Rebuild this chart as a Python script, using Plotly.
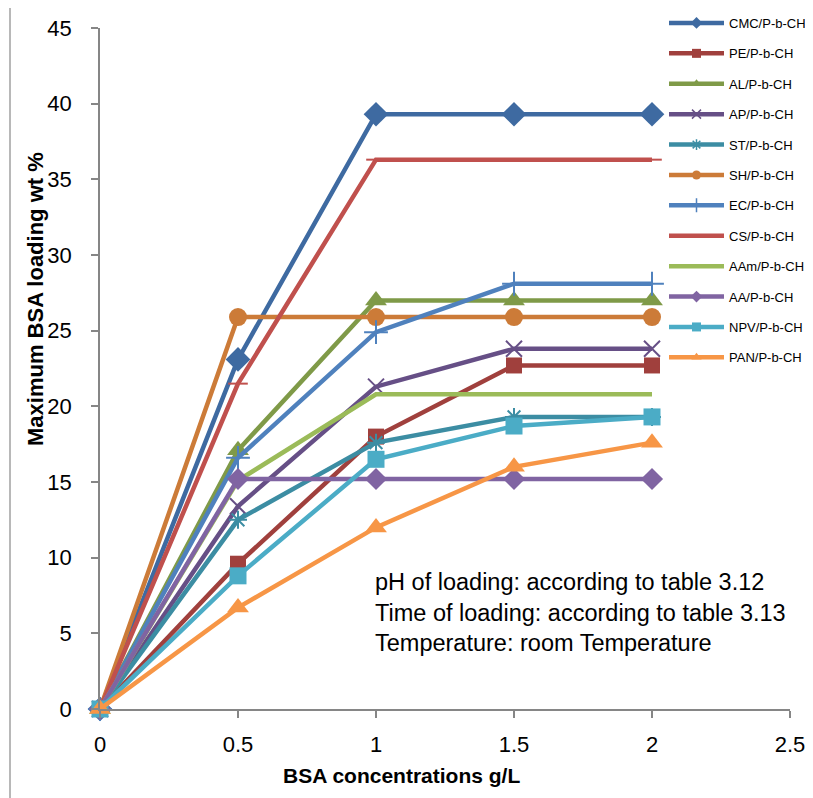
import plotly.graph_objects as go

x_conc = [0, 0.5, 1, 1.5, 2]

names = ["CMC/P-b-CH", "PE/P-b-CH", "AL/P-b-CH", "AP/P-b-CH", "ST/P-b-CH", "SH/P-b-CH",
         "EC/P-b-CH", "CS/P-b-CH", "AAm/P-b-CH", "AA/P-b-CH", "NPV/P-b-CH", "PAN/P-b-CH"]

cmc = [0, 23.1, 39.3, 39.3, 39.3]
pe = [0, 9.6, 18.0, 22.7, 22.7]
al = [0, 17.1, 27.0, 27.0, 27.0]
ap = [0, 13.4, 21.3, 23.8, 23.8]
st = [0, 12.5, 17.6, 19.3, 19.3]
sh = [0, 25.9, 25.9, 25.9, 25.9]
ec = [0, 16.6, 24.9, 28.1, 28.1]
cs = [0, 21.5, 36.3, 36.3, 36.3]
aam = [0, 15.1, 20.8, 20.8, 20.8]
aa = [0, 15.2, 15.2, 15.2, 15.2]
npv = [0, 8.8, 16.5, 18.7, 19.3]
pan = [0, 6.7, 12.0, 16.0, 17.6]

series = [cmc, pe, al, ap, st, sh, ec, cs, aam, aa, npv, pan]

x_ticks = [0, 0.5, 1, 1.5, 2, 2.5]
x_tick_labels = ["0", "0.5", "1", "1.5", "2", "2.5"]
y_ticks = [0, 5, 10, 15, 20, 25, 30, 35, 40, 45]

colors = ["#3E6AA1", "#A0403D", "#7F9A48", "#664F86", "#3C8DA3", "#CC7B38",
          "#4F81BD", "#C0504D", "#9BBB59", "#8064A2", "#4BACC6", "#F79646"]
symbols = ["diamond", "square", "triangle-up", "x-thin", "asterisk", "circle",
           "cross-thin", "line-ew", None, "diamond", "square", "triangle-up"]
sizes = [19, 16, 19, 16, 15, 18, 17, 14, 0, 17, 17, 19]
legend_sizes = [9, 9, 9, 9, 9, 9, 10, 0, 0, 9, 9, 9]

FONT = "Liberation Sans, Arial, sans-serif"

fig = go.Figure()
for i, (nm, ys) in enumerate(zip(names, series)):
    sym = symbols[i]
    thin = sym in ("x-thin", "asterisk", "cross-thin", "line-ew")
    if sym is None:
        mode = "lines"
        marker = None
    else:
        mode = "lines+markers"
        marker = dict(symbol=sym, size=sizes[i], color=colors[i],
                      line=dict(color=colors[i], width=2 if thin else 0))
    fig.add_trace(go.Scatter(x=x_conc, y=ys, name=nm, mode=mode,
                             line=dict(color=colors[i], width=4.5),
                             marker=marker, showlegend=False, cliponaxis=False))

# legend-only entries (smaller markers, like the original legend)
for i, nm in enumerate(names):
    sym = symbols[i]
    thin = sym in ("x-thin", "asterisk", "cross-thin", "line-ew")
    if sym is None or sym == "line-ew":
        mode = "lines"
        marker = None
    else:
        mode = "lines+markers"
        marker = dict(symbol=sym, size=legend_sizes[i], color=colors[i],
                      line=dict(color=colors[i], width=1.5 if thin else 0))
    fig.add_trace(go.Scatter(x=[None], y=[None], name=nm, mode=mode,
                             line=dict(color=colors[i], width=4.5),
                             marker=marker, legendgroup=nm, showlegend=True))

fig.update_layout(
    width=805, height=790,
    margin=dict(l=92, r=23, t=20, b=89, autoexpand=False),
    paper_bgcolor="white", plot_bgcolor="white",
    showlegend=True,
    legend=dict(xref="container", yref="container",
                x=656 / 805, y=1.0, xanchor="left", yanchor="top",
                font=dict(family=FONT, size=13, color="black"),
                traceorder="grouped", tracegroupgap=10.5, itemwidth=55,
                bgcolor="rgba(255,255,255,0)"),
    xaxis=dict(range=[0, 2.5], tickvals=x_ticks, ticktext=x_tick_labels,
               showline=True, linecolor="#868686", linewidth=1.5,
               ticks="outside", ticklen=7, tickcolor="#868686", tickwidth=1.5,
               showgrid=False, zeroline=False, ticklabelstandoff=8,
               automargin=False,
               tickfont=dict(family=FONT, size=22, color="black")),
    yaxis=dict(range=[0, 45], tickvals=y_ticks,
               showline=True, linecolor="#868686", linewidth=1.5,
               ticks="outside", ticklen=7, tickcolor="#868686", tickwidth=1.5,
               showgrid=False, zeroline=False, ticklabelstandoff=15,
               automargin=False,
               tickfont=dict(family=FONT, size=22, color="black")),
)

# axis titles
fig.add_annotation(text="<b>Maximum BSA loading wt %</b>", xref="paper", yref="paper",
                   x=(35 - 100) / 690, y=(709 - 299) / 681, showarrow=False, textangle=-90,
                   font=dict(family=FONT, size=22, color="black"),
                   xanchor="center", yanchor="middle")
fig.add_annotation(text="<b>BSA concentrations g/L</b>", xref="paper", yref="paper",
                   x=(401 - 100) / 690, y=(709 - 775) / 681, showarrow=False,
                   font=dict(family=FONT, size=21, color="black"),
                   xanchor="center", yanchor="middle")

notes = ["pH of loading: according to table 3.12",
         "Time of loading: according to table 3.13",
         "Temperature: room Temperature"]
note_y = [582, 613, 643]
for t, py in zip(notes, note_y):
    fig.add_annotation(text=t, xref="paper", yref="paper",
                       x=(373 - 100) / 690, y=(709 - py) / 681, showarrow=False,
                       font=dict(family=FONT, size=23.5, color="black"),
                       xanchor="left", yanchor="middle")

# chart border (left and top edges)
bx = (10 - 100) / 690
by = (709 - 5) / 681
fig.add_shape(type="line", xref="paper", yref="paper", x0=bx, x1=bx, y0=by, y1=-0.3,
              line=dict(color="#A0A0A0", width=1.5))
fig.add_shape(type="line", xref="paper", yref="paper", x0=bx, x1=1.2, y0=by, y1=by,
              line=dict(color="#A0A0A0", width=1.5))

fig.write_html("out.html")
